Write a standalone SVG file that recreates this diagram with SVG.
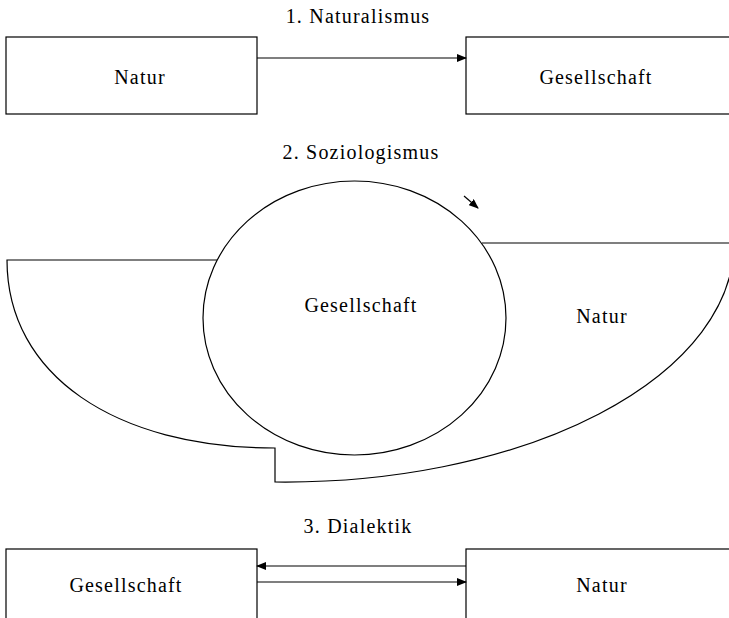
<svg xmlns="http://www.w3.org/2000/svg" width="729" height="618" viewBox="0 0 729 618">
<defs>
<marker id="ah" markerWidth="10" markerHeight="8" refX="9" refY="4" orient="auto" markerUnits="userSpaceOnUse">
<path d="M0,0 L10,4 L0,8 Z" fill="#000"/>
</marker>
<style>
.t{font-family:"Liberation Serif","Times New Roman",serif;font-size:20px;fill:#000;text-anchor:middle;letter-spacing:1.2px}
.b{fill:none;stroke:#000;stroke-width:1.2}
.c{fill:none;stroke:#000;stroke-width:1.2}
</style>
</defs>
<rect width="729" height="618" fill="#fff"/>
<g font-family="Liberation Serif, serif">
<text class="t" x="358" y="23">1. Naturalismus</text>
<g id="n1-natur"><rect class="b" x="6" y="37" width="251" height="77"/><text class="t" x="140" y="84">Natur</text></g>
<g id="n1-gesellschaft"><rect class="b" x="466" y="37" width="270" height="77"/><text class="t" x="596" y="84">Gesellschaft</text></g>
<text class="t" x="361" y="159">2. Soziologismus</text>
<g id="n2-natur"><path class="b" d="M217,260 L7,260 C7,375 115,448 275,448 L275,482 A449,239 0 0 0 734,243 L482,243"/><text class="t" x="602" y="323">Natur</text></g>
<g id="n2-gesellschaft"><ellipse class="b" cx="354.5" cy="318" rx="151.5" ry="137"/><text class="t" x="361" y="312">Gesellschaft</text></g>
<text class="t" x="358" y="533">3. Dialektik</text>
<g id="n3-gesellschaft"><rect class="b" x="6" y="549" width="251" height="80"/><text class="t" x="126" y="592">Gesellschaft</text></g>
<g id="n3-natur"><rect class="b" x="466" y="549" width="270" height="80"/><text class="t" x="602" y="592">Natur</text></g>
</g>
<g id="connectors">
<line class="c" x1="257" y1="58" x2="466" y2="58" marker-end="url(#ah)"/>
<line class="c" x1="464" y1="196" x2="478" y2="208" marker-end="url(#ah)"/>
<line class="c" x1="466" y1="566" x2="257" y2="566" marker-end="url(#ah)"/>
<line class="c" x1="257" y1="582" x2="466" y2="582" marker-end="url(#ah)"/>
</g>
</svg>
